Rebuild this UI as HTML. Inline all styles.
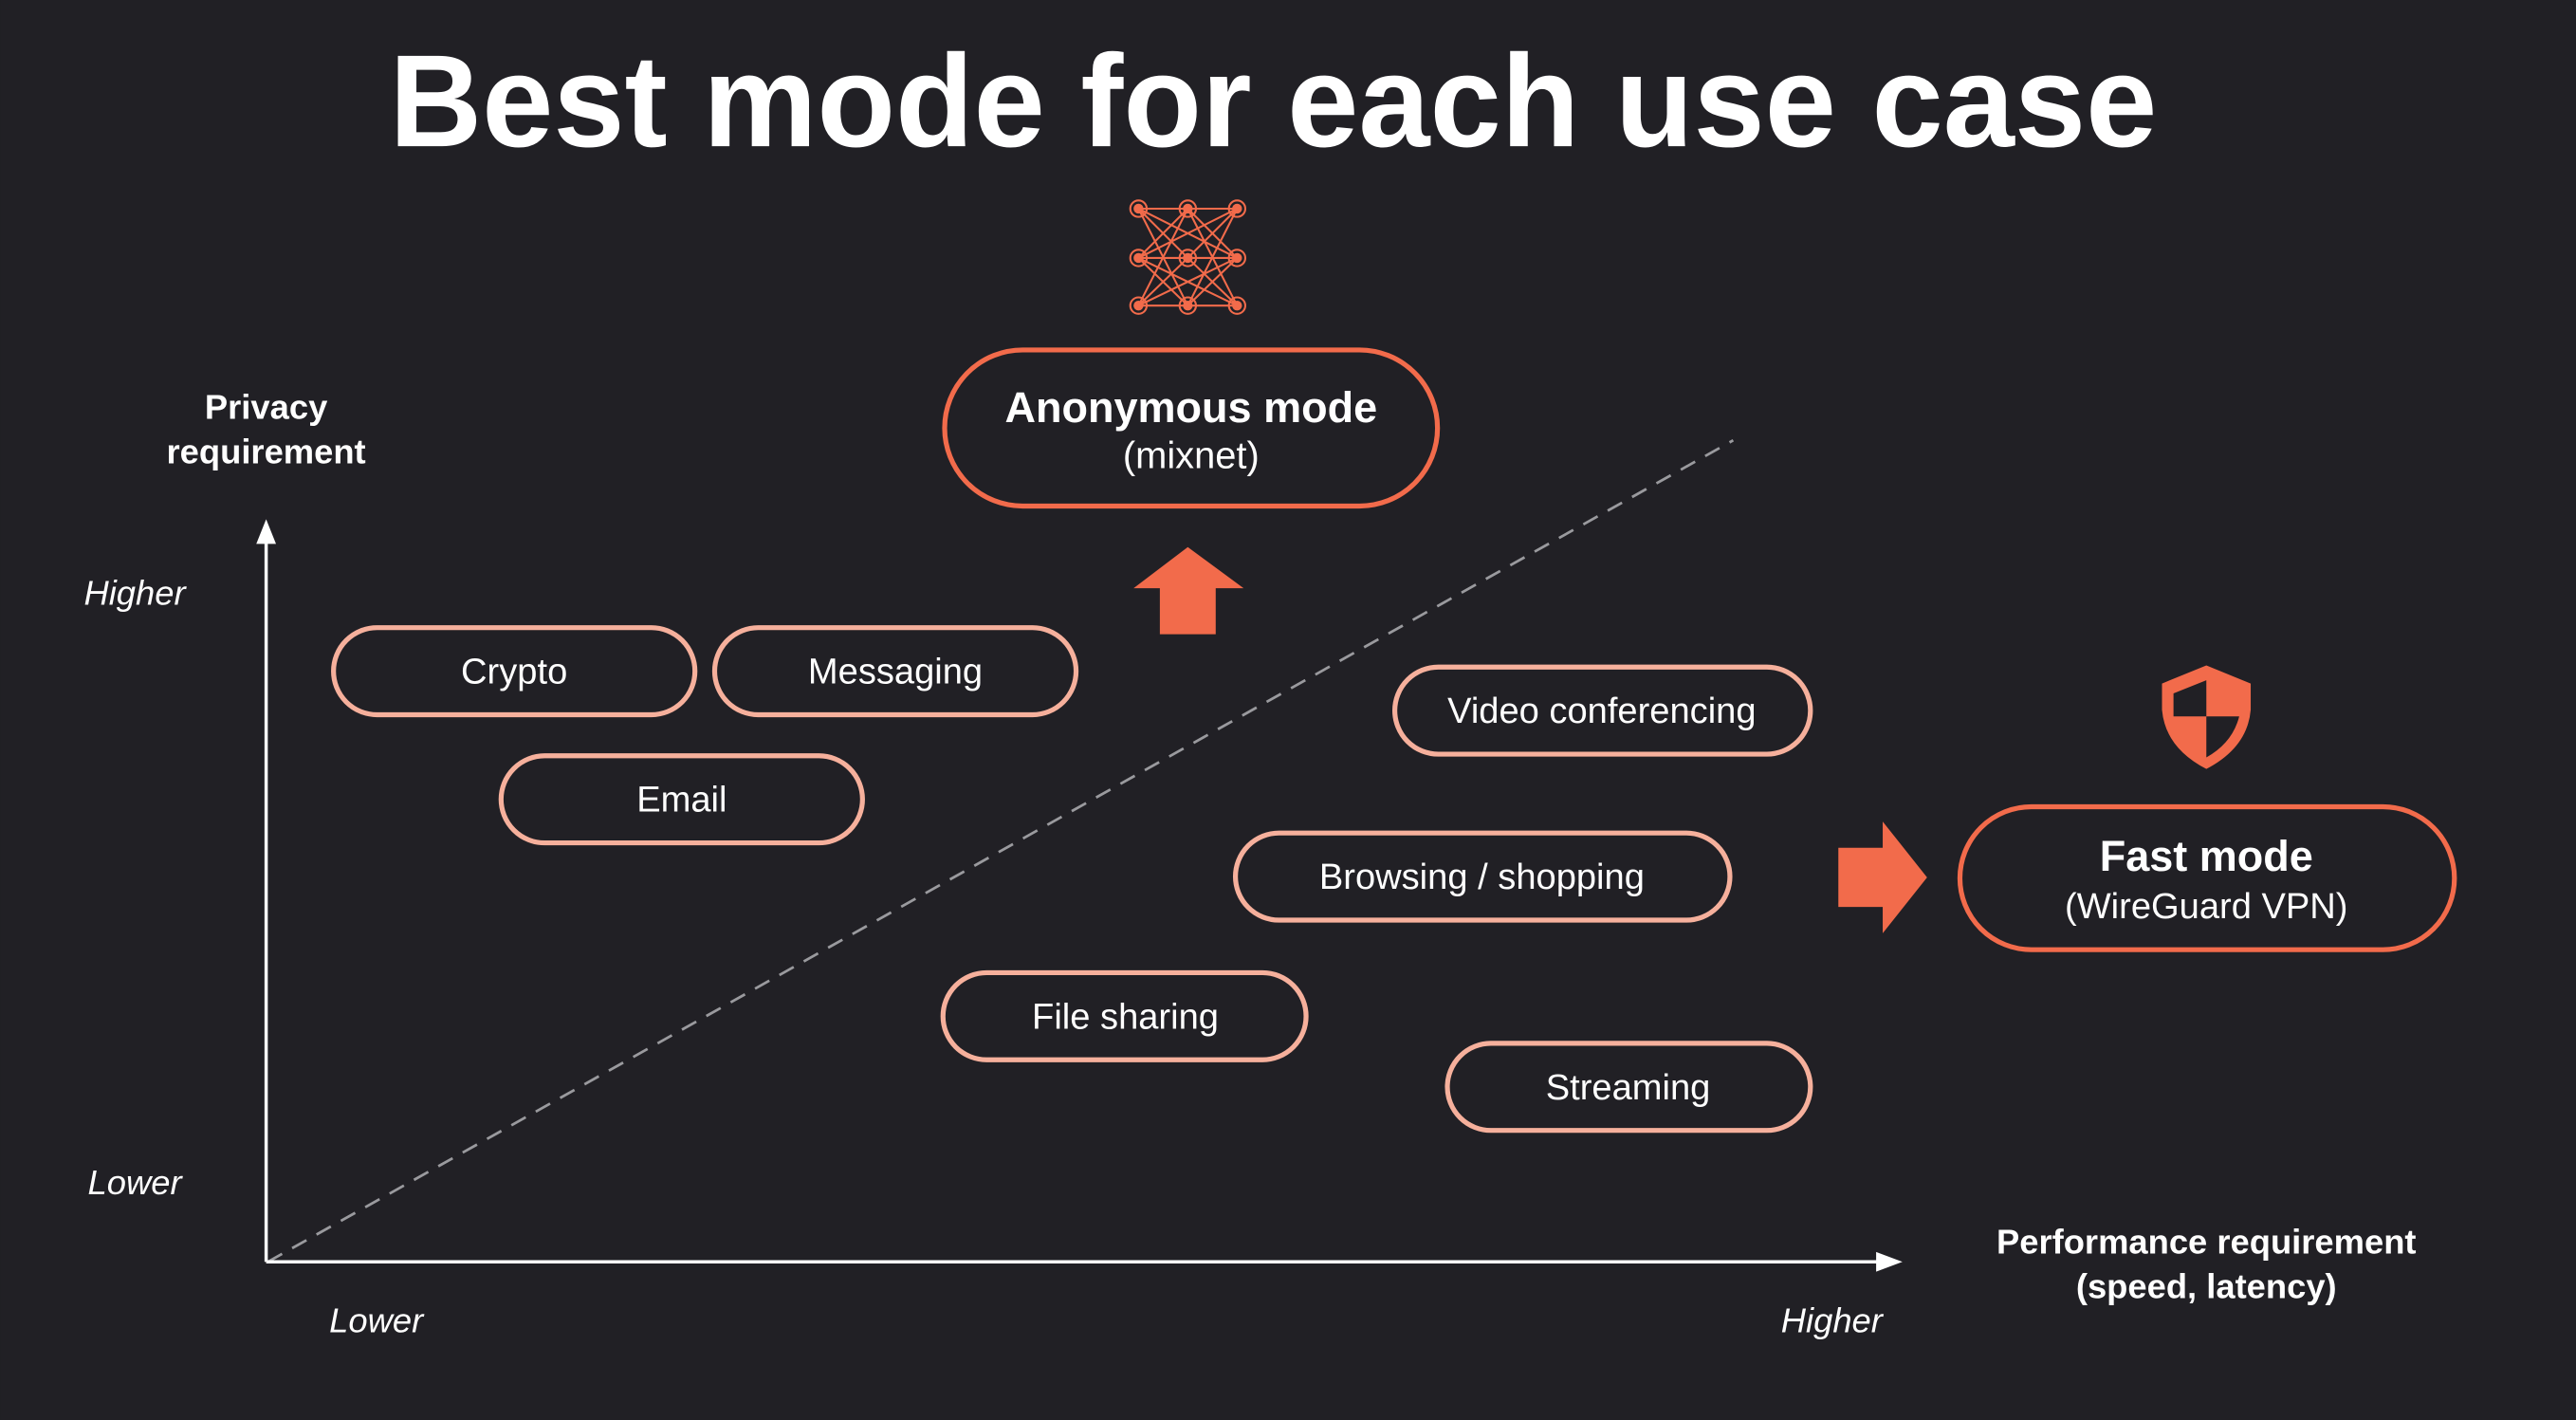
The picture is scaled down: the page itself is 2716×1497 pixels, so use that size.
<!DOCTYPE html>
<html><head><meta charset="utf-8"><style>
html,body{margin:0;padding:0;background:#212025;}
svg{display:block}
text{font-family:"Liberation Sans",sans-serif;fill:#fff}
</style></head><body>
<svg width="2716" height="1497" viewBox="0 0 1568 864.25" xmlns="http://www.w3.org/2000/svg">
<rect width="1568" height="865" fill="#212025"/>
<text x="775" y="89" font-size="80" font-weight="bold" text-anchor="middle" textLength="1076" lengthAdjust="spacingAndGlyphs">Best mode for each use case</text>

<!-- network icon -->
<g stroke="#f26b4b" stroke-width="1.2" fill="none">
<path d="M693 127H753M693 157H753M693 186H753"/>
<path d="M693 127L723 157L753 186M693 127L753 157M693 127L723 186M723 127L693 157M723 127L753 157M723 127L693 186M723 127L753 186M753 127L723 157L693 186M753 127L693 157M753 127L723 186M693 157L723 186M753 157L723 186M693 157L753 186M753 157L693 186"/>
<circle cx="693" cy="127" r="5"/><circle cx="723" cy="127" r="5"/><circle cx="753" cy="127" r="5"/>
<circle cx="693" cy="157" r="5"/><circle cx="723" cy="157" r="5"/><circle cx="753" cy="157" r="5"/>
<circle cx="693" cy="186" r="5"/><circle cx="723" cy="186" r="5"/><circle cx="753" cy="186" r="5"/>
</g>
<g fill="#f26b4b">
<circle cx="693" cy="127" r="3"/><circle cx="723" cy="127" r="3"/><circle cx="753" cy="127" r="3"/>
<circle cx="693" cy="157" r="3"/><circle cx="723" cy="157" r="3"/><circle cx="753" cy="157" r="3"/>
<circle cx="693" cy="186" r="3"/><circle cx="723" cy="186" r="3"/><circle cx="753" cy="186" r="3"/>
</g>

<!-- Anonymous pill -->
<rect x="575" y="213" width="300" height="95" rx="47.5" fill="none" stroke="#f26b4b" stroke-width="3"/>
<text x="725" y="257" font-size="26" font-weight="bold" text-anchor="middle">Anonymous mode</text>
<text x="725" y="285" font-size="23" text-anchor="middle">(mixnet)</text>

<!-- up arrow -->
<path d="M723 333L757 358H740V386H706V358H690Z" fill="#f26b4b"/>

<!-- dashed diagonal -->
<line x1="163" y1="768" x2="1055" y2="268" stroke="#9a9a9e" stroke-width="1.6" stroke-dasharray="10 7"/>

<!-- axes -->
<line x1="162" y1="768" x2="162" y2="330" stroke="#fff" stroke-width="2"/>
<path d="M162 316L168 331H156Z" fill="#fff"/>
<line x1="162" y1="768" x2="1143" y2="768" stroke="#fff" stroke-width="2"/>
<path d="M1158 768L1142 762V774Z" fill="#fff"/>

<text x="162" y="255" font-size="21" font-weight="bold" text-anchor="middle">Privacy</text>
<text x="162" y="282" font-size="21" font-weight="bold" text-anchor="middle">requirement</text>
<text x="82" y="368" font-size="21" font-style="italic" text-anchor="middle">Higher</text>
<text x="82" y="727" font-size="21" font-style="italic" text-anchor="middle">Lower</text>
<text x="229" y="811" font-size="21" font-style="italic" text-anchor="middle">Lower</text>
<text x="1115" y="811" font-size="21" font-style="italic" text-anchor="middle">Higher</text>
<text x="1343" y="763" font-size="21" font-weight="bold" text-anchor="middle">Performance requirement</text>
<text x="1343" y="790" font-size="21" font-weight="bold" text-anchor="middle">(speed, latency)</text>

<!-- use case pills -->
<g fill="none" stroke="#f6b09c" stroke-width="3">
<rect x="203" y="382" width="220" height="53" rx="26.5"/>
<rect x="435" y="382" width="220" height="53" rx="26.5"/>
<rect x="305" y="460" width="220" height="53" rx="26.5"/>
<rect x="849" y="406" width="253" height="53" rx="26.5"/>
<rect x="752" y="507" width="301" height="53" rx="26.5"/>
<rect x="574" y="592" width="221" height="53" rx="26.5"/>
<rect x="881" y="635" width="221" height="53" rx="26.5"/>
</g>
<g font-size="22" text-anchor="middle">
<text x="313" y="416">Crypto</text>
<text x="545" y="416">Messaging</text>
<text x="415" y="494">Email</text>
<text x="975" y="440">Video conferencing</text>
<text x="902" y="541">Browsing / shopping</text>
<text x="685" y="626">File sharing</text>
<text x="991" y="669">Streaming</text>
</g>

<!-- right arrow -->
<path d="M1119 516H1146V500L1173 534L1146 568V552H1119Z" fill="#f26b4b"/>

<!-- shield -->
<path d="M1343 405L1370 416V432Q1368 455 1343 468Q1318 455 1316 432V416Z" fill="#f26b4b"/>
<path d="M1343 414L1323 422V436H1343Z" fill="#212025"/>
<path d="M1343 436H1363Q1359 452 1343 461Z" fill="#212025"/>

<!-- Fast pill -->
<rect x="1193" y="491" width="301" height="87" rx="43.5" fill="none" stroke="#f26b4b" stroke-width="3"/>
<text x="1343" y="530" font-size="26" font-weight="bold" text-anchor="middle">Fast mode</text>
<text x="1343" y="559" font-size="22" text-anchor="middle">(WireGuard VPN)</text>
</svg>
</body></html>
